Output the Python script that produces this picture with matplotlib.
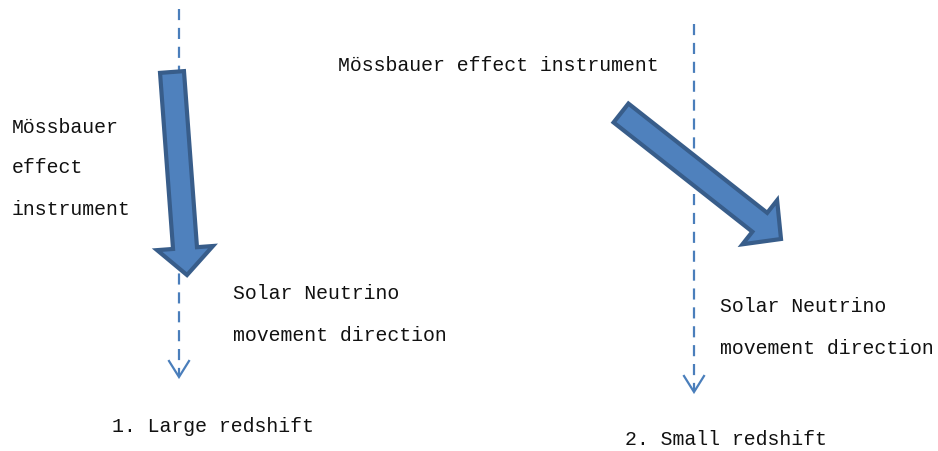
import matplotlib
matplotlib.use("Agg")
import matplotlib.pyplot as plt
from matplotlib.patches import FancyArrow

W, H = 938, 452

# dashed neutrino direction lines: x, y_start, y_end
dash_lines = [(179, 10, 378), (694, 25, 393)]

# big block arrows: tail (x, y), tip (x, y)
block_arrows = [((172, 73), (187, 276)), ((621, 114), (781, 240))]

# text labels: (x, baseline y, text)
labels = [
    (12, 133, "Mössbauer"),
    (12, 173, "effect"),
    (12, 215, "instrument"),
    (338, 71, "Mössbauer effect instrument"),
    (233, 299, "Solar Neutrino"),
    (233, 341, "movement direction"),
    (720, 312, "Solar Neutrino"),
    (720, 354, "movement direction"),
    (112, 432, "1. Large redshift"),
    (625, 445, "2. Small redshift"),
]

line_col = "#4a7ebb"
fill_col = "#4f81bd"
edge_col = "#385d8a"

fig = plt.figure(figsize=(W / 100, H / 100), dpi=100)
ax = fig.add_axes([0, 0, 1, 1])
ax.set_xlim(0, W)
ax.set_ylim(H, 0)
ax.axis("off")

for x, y0, y1 in dash_lines:
    ax.plot([x, x], [y0, y1 - 2], color=line_col, lw=1.6, dashes=(5, 3.5), zorder=1)
    ax.plot([x - 10, x, x + 10], [y1 - 16, y1, y1 - 16], color=line_col,
            lw=1.6, solid_joinstyle="miter", zorder=1)

for (x0, y0), (x1, y1) in block_arrows:
    arr = FancyArrow(x0, y0, x1 - x0, y1 - y0, width=24, head_width=56,
                     head_length=27, length_includes_head=True,
                     facecolor=fill_col, edgecolor=edge_col, linewidth=3.0,
                     joinstyle="miter", zorder=3)
    ax.add_patch(arr)

for x, y, s in labels:
    ax.text(x, y, s, fontsize=14.3, family="Liberation Mono", color="#111111",
            ha="left", va="baseline")

fig.savefig("out.png", dpi=100)
